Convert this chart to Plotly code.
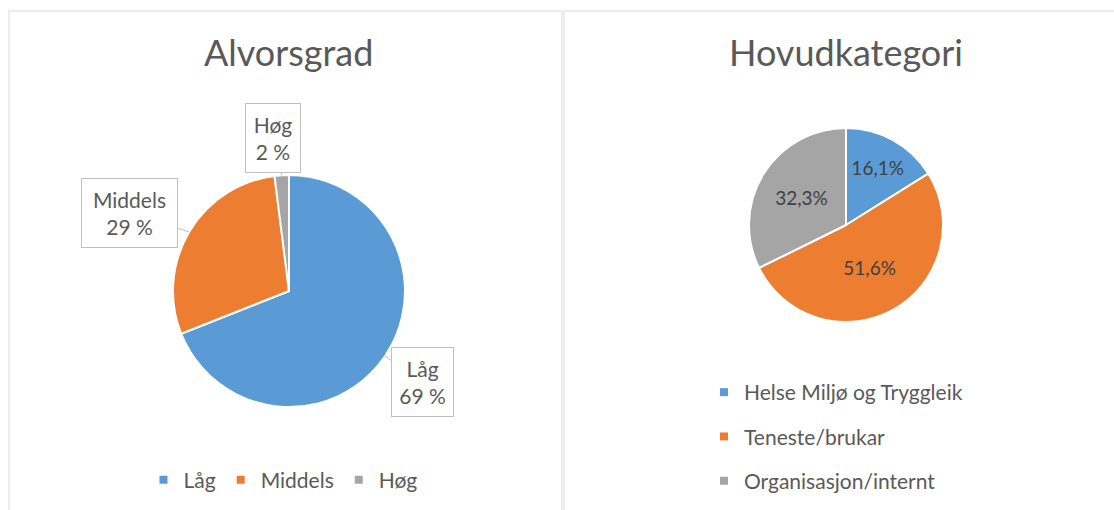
import math
import plotly.graph_objects as go

# ---------------- data ----------------
sev_labels = ["Låg", "Middels", "Høg"]
sev_values = [69, 29, 2]
sev_text = ["69 %", "29 %", "2 %"]

cat_labels = ["Helse Miljø og Tryggleik", "Teneste/brukar", "Organisasjon/internt"]
cat_values = [16.1, 51.6, 32.3]

colors = ["#5B9BD5", "#ED7D31", "#A5A5A5"]

W, H = 1114, 510
FONT = "Lato, 'Open Sans', sans-serif"
TXT = "#595959"

def px(x):
    return x / W

def py(y):
    return 1 - y / H

fig = go.Figure()

# left pie: centre (289,291), r 116
L_CX, L_CY, L_R = 289, 291, 116
fig.add_trace(go.Pie(
    labels=sev_labels, values=sev_values, sort=False, direction="clockwise",
    rotation=0, textinfo="none", hoverinfo="label+percent",
    marker=dict(colors=colors, line=dict(color="white", width=2)),
    domain=dict(x=[px(L_CX - L_R), px(L_CX + L_R)], y=[py(L_CY + L_R), py(L_CY - L_R)]),
    showlegend=False,
))

# right pie: centre (846,225), r 97
R_CX, R_CY, R_R = 846, 225, 97
fig.add_trace(go.Pie(
    labels=cat_labels, values=cat_values, sort=False, direction="clockwise",
    rotation=0, textinfo="percent", texttemplate="%{percent:.1%}",
    textposition="inside", insidetextorientation="horizontal",
    textfont=dict(family=FONT, size=19, color="#404040"),
    marker=dict(colors=colors, line=dict(color="white", width=2)),
    domain=dict(x=[px(R_CX - R_R), px(R_CX + R_R)], y=[py(R_CY + R_R), py(R_CY - R_R)]),
    showlegend=False,
))

# legend entries (dummy traces so each legend can be styled on its own)
for lab, col in zip(sev_labels, colors):
    fig.add_trace(go.Scatter(x=[None], y=[None], mode="markers", name=lab,
                             marker=dict(symbol="square", size=8, color=col),
                             legend="legend", legendgroup="a" + lab, showlegend=True))
for lab, col in zip(cat_labels, colors):
    fig.add_trace(go.Scatter(x=[None], y=[None], mode="markers", name=lab,
                             marker=dict(symbol="square", size=8, color=col),
                             legend="legend2", legendgroup="b" + lab, showlegend=True))

# callout labels for left pie, positioned from slice angles
total = sum(sev_values)
dist = [1.39, 1.53, 1.33]
nudge_deg = [0, -4.5, -2.5]
box_w = [53, 87, 46]
cum = 0
for lab, v, t, d, nd, bw in zip(sev_labels, sev_values, sev_text, dist, nudge_deg, box_w):
    mid = (cum + v / 2) / total * 2 * math.pi
    cum += v
    sx, sy = math.sin(mid), -math.cos(mid)
    tipx, tipy = L_CX + L_R * sx, L_CY + L_R * sy
    lab_ang = mid + math.radians(nd)
    bx, by = L_CX + L_R * d * math.sin(lab_ang), L_CY - L_R * d * math.cos(lab_ang)
    fig.add_annotation(
        x=px(tipx), y=py(tipy), xref="paper", yref="paper",
        ax=bx - tipx, ay=by - tipy, axref="pixel", ayref="pixel",
        showarrow=True, arrowhead=0, arrowwidth=1, arrowcolor="#bfbfbf",
        text=f"{lab}<br>{t}", font=dict(family=FONT, size=21, color=TXT),
        bgcolor="white", bordercolor="#bfbfbf", borderwidth=1, borderpad=4,
        width=bw, height=60, align="center",
    )

# panel borders
fig.add_shape(type="rect", xref="paper", yref="paper", x0=px(9), x1=px(562),
              y0=py(530), y1=py(11), line=dict(color="#d9d9d9", width=1))
fig.add_shape(type="rect", xref="paper", yref="paper", x0=px(564), x1=px(1130),
              y0=py(530), y1=py(11), line=dict(color="#d9d9d9", width=1))

# titles
fig.add_annotation(x=px(289), y=py(52), xref="paper", yref="paper", showarrow=False,
                   xanchor="center", yanchor="middle",
                   text="Alvorsgrad", font=dict(family=FONT, size=36, color=TXT))
fig.add_annotation(x=px(846), y=py(52), xref="paper", yref="paper", showarrow=False,
                   xanchor="center", yanchor="middle",
                   text="Hovudkategori", font=dict(family=FONT, size=36, color=TXT))

fig.update_layout(
    width=W, height=H, margin=dict(l=0, r=0, t=0, b=0),
    paper_bgcolor="white", plot_bgcolor="white",
    separators=", ",
    xaxis=dict(visible=False), yaxis=dict(visible=False),
    legend=dict(orientation="h", x=px(283), xanchor="center", y=py(480), yanchor="middle",
                font=dict(family=FONT, size=21, color=TXT), itemwidth=30,
                bgcolor="rgba(0,0,0,0)"),
    legend2=dict(orientation="v", x=px(704), xanchor="left", y=py(372), yanchor="top",
                 font=dict(family=FONT, size=21, color=TXT), itemwidth=30,
                 tracegroupgap=14, bgcolor="rgba(0,0,0,0)"),
)

fig.write_html("out.html", config={"displayModeBar": False},
               post_script="document.body.style.margin='0';document.body.style.overflow='hidden';")
